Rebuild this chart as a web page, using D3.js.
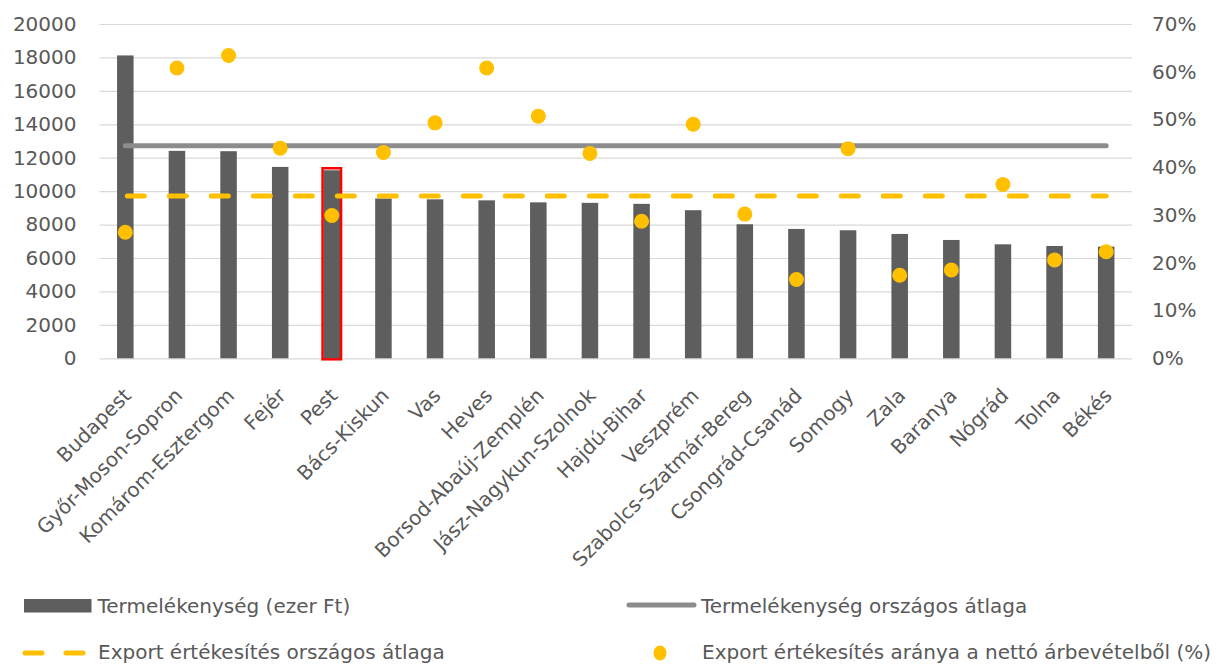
<!DOCTYPE html>
<html>
<head>
<meta charset="utf-8">
<script src="https://cdn.jsdelivr.net/npm/d3@7"></script>
<style>
  body { margin: 0; background: #fff; }
  text { font-family: "DejaVu Sans", "Open Sans", sans-serif; fill: #595959; }
</style>
</head>
<body>
<div id="chart"></div>
<script>
var counties = ["Budapest", "Győr-Moson-Sopron", "Komárom-Esztergom", "Fejér", "Pest", "Bács-Kiskun", "Vas", "Heves",
  "Borsod-Abaúj-Zemplén", "Jász-Nagykun-Szolnok", "Hajdú-Bihar", "Veszprém", "Szabolcs-Szatmár-Bereg", "Csongrád-Csanád",
  "Somogy", "Zala", "Baranya", "Nógrád", "Tolna", "Békés"];
var productivity = [18120, 12410, 12390, 11450, 11250, 9560, 9510, 9450, 9330, 9300, 9240, 8860, 8020, 7740, 7660, 7440, 7080, 6820, 6720, 6680];
var exportShare = [26.4, 60.8, 63.4, 44.0, 29.9, 43.1, 49.3, 60.8, 50.7, 42.9, 28.7, 49.0, 30.2, 16.5, 43.9, 17.4, 18.5, 36.4, 20.6, 22.3];
var productivityAvg = 12710;
var exportAvg = 34.0;
var leftTicks = [0, 2000, 4000, 6000, 8000, 10000, 12000, 14000, 16000, 18000, 20000];
var rightTicks = [0, 10, 20, 30, 40, 50, 60, 70];
var highlighted = "Pest";

(function() {
    var width = 1217,
        height = 664;
    var left = 99.5, right = 1132, top = 24, bottom = 358.3;
    var fs = "20px";

    var svg = d3.select("#chart")
        .append("svg")
        .attr("width", width)
        .attr("height", height)

    var x = d3.scaleBand().domain(counties).range([left, right]).paddingInner(0.68).paddingOuter(0.34)
    var y = d3.scaleLinear().domain([0, 20000]).range([bottom, top])
    var y2 = d3.scaleLinear().domain([0, 70]).range([bottom, top])
    var cx = function(name) { return x(name) + x.bandwidth() / 2 }

    // gridlines
    svg.append("g")
        .attr("transform", "translate(" + left + ",0)")
        .call(d3.axisLeft(y).tickValues(leftTicks).tickSize(-(right - left)).tickFormat(""))
        .call(function(g) {
            g.select(".domain").remove()
            g.selectAll("line").attr("stroke", "#d9d9d9").attr("stroke-width", 1.2)
        })

    // left axis labels
    svg.append("g")
        .attr("transform", "translate(" + left + ",0)")
        .call(d3.axisLeft(y).tickValues(leftTicks).tickSize(0).tickPadding(23).tickFormat(d3.format("d")))
        .call(function(g) {
            g.select(".domain").remove()
            g.selectAll("text").style("font-size", fs).attr("fill", "#595959")
        })

    // right axis labels
    svg.append("g")
        .attr("transform", "translate(" + right + ",0)")
        .call(d3.axisRight(y2).tickValues(rightTicks).tickSize(0).tickPadding(20).tickFormat(function(d) { return d + "%" }))
        .call(function(g) {
            g.select(".domain").remove()
            g.selectAll("text").style("font-size", fs).attr("fill", "#595959")
        })

    // bars
    svg.selectAll(".bar")
        .data(counties)
        .enter().append("rect")
        .attr("class", "bar")
        .attr("x", function(d) { return x(d) })
        .attr("width", x.bandwidth())
        .attr("y", function(d, i) { return y(productivity[i]) })
        .attr("height", function(d, i) { return y(0) - y(productivity[i]) })
        .attr("fill", "#5e5e5e")

    // highlight
    var hi = counties.indexOf(highlighted)
    svg.append("rect")
        .attr("x", x(highlighted) - 1)
        .attr("width", x.bandwidth() + 2)
        .attr("y", y(productivity[hi]) - 2)
        .attr("height", y(0) - y(productivity[hi]) + 3)
        .attr("fill", "none")
        .attr("stroke", "#ff0000")
        .attr("stroke-width", 2.5)

    // national average productivity
    svg.append("line")
        .attr("x1", cx(counties[0]))
        .attr("x2", cx(counties[counties.length - 1]))
        .attr("y1", y(productivityAvg))
        .attr("y2", y(productivityAvg))
        .attr("stroke", "#8c8c8c")
        .attr("stroke-width", 5)
        .attr("stroke-linecap", "round")

    // national average export share
    svg.append("line")
        .attr("x1", cx(counties[0]) + 2)
        .attr("x2", cx(counties[counties.length - 1]))
        .attr("y1", y2(exportAvg))
        .attr("y2", y2(exportAvg))
        .attr("stroke", "#ffc000")
        .attr("stroke-width", 5)
        .attr("stroke-linecap", "round")
        .attr("stroke-dasharray", "17 25")

    // export share dots
    svg.selectAll(".dot")
        .data(counties)
        .enter().append("ellipse")
        .attr("class", "dot")
        .attr("cx", function(d) { return cx(d) })
        .attr("cy", function(d, i) { return y2(exportShare[i]) })
        .attr("rx", 7.5)
        .attr("ry", 7.5)
        .attr("fill", "#ffc000")

    // category labels
    svg.selectAll(".cat")
        .data(counties)
        .enter().append("text")
        .attr("class", "cat")
        .attr("transform", function(d) { return "translate(" + (cx(d) - 3) + ",387) rotate(-45)" })
        .attr("text-anchor", "end")
        .attr("dy", "0.7em")
        .style("font-size", fs)
        .text(function(d) { return d })

    // legend
    var legend = svg.append("g")
    legend.append("rect").attr("x", 24).attr("y", 599).attr("width", 67.5).attr("height", 13.5).attr("fill", "#5e5e5e")
    legend.append("text").attr("x", 97.5).attr("y", 612.5).style("font-size", fs).text("Termelékenység (ezer Ft)")

    legend.append("line").attr("x1", 629).attr("x2", 694).attr("y1", 605).attr("y2", 605)
        .attr("stroke", "#8c8c8c").attr("stroke-width", 5).attr("stroke-linecap", "round")
    legend.append("text").attr("x", 701).attr("y", 612.5).style("font-size", fs).text("Termelékenység országos átlaga")

    legend.append("line").attr("x1", 25).attr("x2", 87).attr("y1", 653).attr("y2", 653)
        .attr("stroke", "#ffc000").attr("stroke-width", 5).attr("stroke-linecap", "round")
        .attr("stroke-dasharray", "17 24")
    legend.append("text").attr("x", 98).attr("y", 658.5).style("font-size", fs).text("Export értékesítés országos átlaga")

    legend.append("ellipse").attr("cx", 660).attr("cy", 653).attr("rx", 6.5).attr("ry", 7.5).attr("fill", "#ffc000")
    legend.append("text").attr("x", 702).attr("y", 658.5).style("font-size", fs).text("Export értékesítés aránya a nettó árbevételből (%)")
})();
</script>
</body>
</html>
